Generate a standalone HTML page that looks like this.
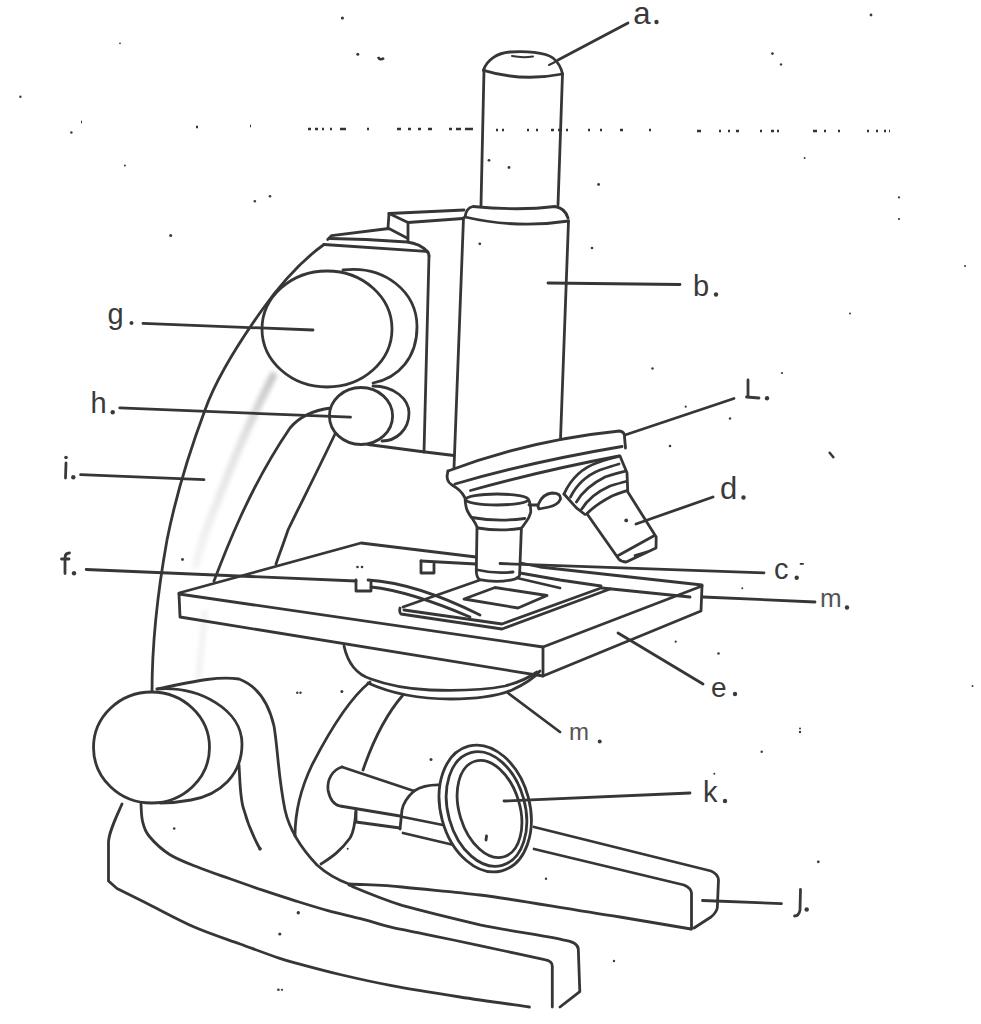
<!DOCTYPE html>
<html><head><meta charset="utf-8"><title>Microscope</title>
<style>
html,body{margin:0;padding:0;background:#fff;}
body{width:981px;height:1024px;overflow:hidden;position:relative;}
svg{position:absolute;left:0;top:0;}
.l{fill:none;stroke:#363636;stroke-width:2.8;stroke-linecap:round;stroke-linejoin:round;}
.t{font-family:"Liberation Sans",sans-serif;fill:#3a3a3a;}
</style></head>
<body>
<svg width="981" height="1024" viewBox="0 0 981 1024">
<!-- smudge -->
<defs><linearGradient id="sg" x1="0" y1="0" x2="0" y2="1"><stop offset="0" stop-color="#c8c8c8"/><stop offset="0.35" stop-color="#e2e2e2"/><stop offset="1" stop-color="#f4f4f4"/></linearGradient>
<filter id="bl" x="-50%" y="-10%" width="200%" height="120%"><feGaussianBlur stdDeviation="2"/></filter></defs>
<path d="M273,376 C258,405 235,455 218,500 C208,525 200,545 196,565" fill="none" stroke="url(#sg)" stroke-width="8" stroke-linecap="round" filter="url(#bl)"/>
<path d="M205,610 C203,640 200,660 198,680" fill="none" stroke="#f2f2f2" stroke-width="6" filter="url(#bl)"/>
<g class="l">
<!-- eyepiece -->
<path d="M483.5,70 C487,60 497,53 510,52 C525,51 545,52 553,58 C558,62 561,67 562.5,74"/>
<path d="M512,56 Q522,58 533,56.5" stroke-width="2"/>
<path d="M549,65 L555,62" stroke-width="2"/>
<path d="M483.5,70.3 Q522,82 562.5,74"/>
<path d="M484,70 L481,205"/>
<path d="M562.5,74 L558,205"/>
<path d="M465,217 Q466,208 473,206.5 Q519,211 555,206.5 Q565,208 568,218"/>
<path d="M465,217 Q517,229 568.5,221"/>
<!-- body tube -->
<path d="M463.5,218 L454,468"/>
<path d="M568.5,221 L560.5,439.5"/>
<!-- arm top block -->
<path d="M389,213.5 L464,210"/>
<path d="M389,213.5 L408,222.5 L463,218.5"/>
<path d="M389,213.5 L388,228"/>
<path d="M408,222.5 L408,241"/>
<path d="M327.7,239.4 L331.6,235.6 L388.9,228.5 L407,238"/>
<path d="M330,238.5 L366,239.5 L407,242 Q420,243.5 428,252"/>
<path d="M324,244.5 L426,251.3 Q429,252 429,256"/>
<path d="M429,256 L424,452"/>
<path d="M368,444.5 L421,451.5 L454,455.5"/>
<!-- arm outer curve -->
<path d="M324,244.5 C305,258 282,282 262,310 C235,348 215,382 205,410 C190,450 175,500 167,540 C158,590 152,640 152,692"/>
<!-- arm inner curves -->
<path d="M331,408 C315,410 300,416 290,428 C275,450 255,485 240,518 C230,540 222,560 214,581"/>
<path d="M335,434 C318,470 300,505 288,530 C283,545 279,555 276,564"/>
<!-- g knob -->
<path d="M343,270 C385,265 417,292 417,327 C417,357 399,378 373,383"/>
<ellipse cx="327" cy="329" rx="65" ry="58" fill="#fff"/>
<!-- h knob -->
<path d="M373,386 C394,386 409,399 409,413 C409,430 396,441 382,441"/>
<ellipse cx="361" cy="416" rx="31.6" ry="28.5" fill="#fff"/>
<!-- nosepiece -->
<path d="M448,471 Q530,440 619.5,431 Q625,432 624.5,437 L625.5,448"/>
<path d="M448,471 Q445,481 452,485 Q461,490 464.5,497"/>
<path d="M455,484 Q530,462 622,446.5"/>
<path d="M470.5,490.5 Q540,471 619,456"/>
<!-- objective straight -->
<path d="M465,498 Q465.5,506 467,510 Q470,516 472,518 Q476,524 477.5,528 M529.2,500.6 Q531,507 530.7,512.3 Q529,518 527,520.5 Q524.5,524 522.4,527"/>
<path d="M471.8,517.5 Q498,522 524.8,518.5"/>
<path d="M478,528 Q499,531.5 520,528.5"/>
<path d="M477,528 L476.3,571 Q476.5,577 479.4,579.7 Q499,583.5 515.5,578.8 Q519.5,577 519.6,575 L521.4,528"/>
<path d="M478,570 Q495,574 513,572"/>
<ellipse cx="497" cy="499.5" rx="31.5" ry="5.5" fill="#fff"/>
<path d="M529,505 L538,505"/>
<!-- small objective behind -->
<path d="M539,503 Q543,494 552,493 Q561,493 560.5,499 Q558,505 549,507 L539,509 Q537,506 539,503"/>
<!-- angled objective -->
<path d="M620,456 L623.3,464 L627,472.7 L627.7,490.3"/>
<path d="M564,494 Q575,470 598,462.5 Q610,458 618,456.6"/>
<path d="M570.5,497 Q580,478 600,470 Q612,466 619,464"/>
<path d="M576.4,502 Q585,487 605,477 Q617,473 624.7,471.3"/>
<path d="M581.5,509.4 Q590,495 610,486 Q620,483 626,481.5"/>
<path d="M586.6,514 Q595,505 612,496 Q622,492 627.7,490.3"/>
<path d="M564,494 L576.4,507.9 L585,514.5"/>
<path d="M588,515.2 L618.9,559.2 Q622,562 626.2,562 L656,548 L656.2,537 L627.7,491.8"/>
<path d="M617.4,556 L654,535.7"/>
<path d="M635,555.5 L646.7,552"/>
<!-- stage -->
<path d="M179,593 L361,543 L476,557 M521,563 L540,567 L702,585"/>
<path d="M179,594 L543,647 L702,586"/>
<path d="M179,594 L180,617 L543,676 L701,611 L702,586"/>
<path d="M543,647 L543,676"/>
<!-- slide holder -->
<path d="M403,607 L480,580"/>
<path d="M400,608 Q399,612 401,614 L502,629 L610,589"/>
<path d="M404,610 L502,624 L601,588"/>
<path d="M520,573 L560,580 L601,586"/>
<path d="M517,578 L560,588"/>
<path d="M602,588 L690,597"/>
<path d="M464,599 L495,587.5 L547,595.5 L518,608 Z"/>
<!-- f clip -->
<path d="M356,580 L356,591 L371,591 L371,582"/>
<path d="M368,580 C400,582 440,595 480,615"/>
<path d="M371,587 C400,590 435,602 470,617"/>
<!-- back clip -->
<path d="M421,561 L421,573 L434,573 L434,564"/>
<path d="M421,561 L476,564"/>
<!-- condenser -->
<path d="M344,646 C348,664 358,675 371,679 C390,686 410,689 430,690 C460,691 490,689 505,686 C520,682 530,677 537,672"/>
<path d="M368,683 C390,693 420,699 451,699 C480,699 500,695 512,690 C525,684 534,678 540,671"/>
<!-- pillar -->
<path d="M370,682 C350,698 330,730 312,765 C300,790 295,815 295,836"/>
<path d="M403,695 C390,710 375,735 363,770"/>
<path d="M356,810 C355,825 352,835 350,838 C340,852 330,858 321,864"/>
<!-- coarse knob + housing -->
<path d="M157,689 C200,680 220,676 239,679 C255,685 268,700 274,726 C278,750 278,775 285,810 C289,828 298,845 317,865 C327,874 338,880 349,884 C370,885 385,885 402,887 C430,890 455,892 480,895 C520,900 560,908 620,917 L691,929"/>
<path d="M157,689 C200,686 242,710 242,744 C242,775 220,795 191,800 Q175,803 160,803"/>
<path d="M239,765 C240,780 240,800 244,810 C248,825 254,838 260,849"/>
<ellipse cx="151.5" cy="747.5" rx="58" ry="55.5" fill="#fff"/>
<!-- base -->
<path d="M122,804 C115,820 109,832 108.5,842 L108.5,881 L117,888.5 C122.5,891.2 137.1,898.6 150.0,905.0 C162.9,911.4 179.2,920.5 194.2,927.0 C209.2,933.5 225.7,938.8 240.0,944.0 C254.3,949.2 269.8,955.0 279.8,958.4 C289.8,961.8 290.0,961.5 300.0,964.2 C310.0,966.9 324.7,970.9 340.0,974.5 C355.3,978.1 371.7,981.9 391.7,985.6 C411.7,989.4 437.1,993.4 460.0,997.0 C482.9,1000.6 517.8,1005.3 529.4,1007.0"/>
<path d="M141.0,804.0 C141.2,806.8 141.2,815.7 142.5,821.0 C143.8,826.3 144.4,830.4 149.0,836.0 C153.6,841.6 161.5,849.4 170.0,854.7 C178.5,860.0 190.0,864.0 200.0,868.0 C210.0,872.0 219.6,875.1 230.0,878.8 C240.4,882.5 251.7,886.5 262.6,890.2 C273.5,893.9 284.4,897.4 295.3,900.8 C306.2,904.2 317.0,907.6 327.9,910.6 C338.8,913.6 350.1,916.0 360.5,918.7 C370.9,921.4 379.7,924.4 390.0,926.9 C400.3,929.4 411.8,931.4 422.3,933.6 C432.9,935.8 440.4,937.3 453.3,940.0 C466.2,942.7 484.8,946.7 500.0,950.0 C515.2,953.3 537.2,958.0 544.6,959.6 Q552.3,961 552.3,966 L552.3,1007"/>
<path d="M349,885 Q352,886 353.4,887 C370,894 385,900 402,905.4 C430,913 455,919 480,924.8 C510,931 540,935 563,939.8 Q578,942 578.3,949 L579.8,991.7 L560,1007"/>
<!-- right leg -->
<path d="M534,827 L711,871 Q718,874 718.5,880 L717.3,908 Q716,913 711,917 L694,928"/>
<path d="M534,849 L684,885 Q691,888 691.5,893 L691.5,929"/>
<!-- mirror handle -->
<path d="M342,767 L414,791"/>
<path d="M342,767 C332,770 327,780 328,790 C330,800 335,805 340,806 L400,816"/>
<path d="M356,812 L356,822 L400,828"/>
<path d="M414,791 Q404,800 402,810 L400,829"/>
<path d="M414,791 Q425,784 442,785"/>
<path d="M403,817 L448,826"/>
<path d="M403,833 L458,846"/>
<!-- mirror -->
<ellipse cx="485.2" cy="808.5" rx="44.5" ry="64.5" transform="rotate(-15 485.2 808.5)" fill="#fff"/>
<ellipse cx="486.5" cy="809" rx="38.5" ry="58.5" transform="rotate(-15.5 486.5 809)"/>
<ellipse cx="489.5" cy="809" rx="30.2" ry="49.9" transform="rotate(-17 489.5 809)"/>
<path d="M486.5,836 L486,840"/>
<!-- label lines -->
<path d="M558,60 L628,23"/>
<path d="M548,283 L680,284.5"/>
<path d="M625,435 L734,398.5"/>
<path d="M636,524 L713,497"/>
<path d="M500,563.5 L764,572.8"/>
<path d="M703,597 L815,602"/>
<path d="M618,633 L703,684"/>
<path d="M508,693 L560,732"/>
<path d="M504,801 L690,793"/>
<path d="M702.5,900.5 L781.4,903.6"/>
<path d="M143,323.4 L313,330"/>
<path d="M119.8,407.9 L350.5,417.2"/>
<path d="M80.6,474.7 L204,479.6"/>
<path d="M86.2,569.5 L356,581"/>
</g>
<!-- dotted line -->
<path d="M81,122h1 M196,127h2 M250,126h1 M308,129h3 M315,129h3 M322,129h2 M330,129h2 M340,129h6 M367,129h2 M397,129h4 M408,129h3 M418,129h3 M428,129h4 M449,129h3 M456,129h5 M465,129h8 M496,130h2 M502,130h2 M527,130h2 M536,130h2 M551,130h3 M558,130h4 M566,130h2 M588,130h2 M600,130h2 M620,130h3 M649,130h2 M697,131h4 M719,131h2 M728,131h2 M736,131h3 M760,131h2 M771,131h3 M777,131h2 M813,131h4 M824,131h2 M838,131h2 M867,131h2 M876,131h2 M884,131h2 M889,131h1" stroke="#333" stroke-width="2.6" fill="none"/>
<g fill="#3a3a3a">
<circle cx="782" cy="373" r="1.1"/>
<circle cx="685.7" cy="406.7" r="1.1"/>
<circle cx="742.3" cy="588.3" r="1"/>
<circle cx="675.7" cy="641.7" r="1.1"/>
<circle cx="120" cy="43.3" r="0.9"/>
<circle cx="342.4" cy="18" r="1.6"/>
<circle cx="626.2" cy="520.4" r="1.9"/>
<circle cx="357.8" cy="54.3" r="1.5"/>
<circle cx="20.4" cy="96.8" r="1.2"/>
<circle cx="71.4" cy="132.5" r="1.2"/>
<circle cx="124.9" cy="165.6" r="1"/>
<circle cx="254.8" cy="201.3" r="1.3"/>
<circle cx="270" cy="196.2" r="1.3"/>
<circle cx="170.7" cy="235.5" r="1.5"/>
<circle cx="871" cy="15" r="1.4"/>
<circle cx="772.4" cy="53.6" r="1.4"/>
<circle cx="781" cy="64.4" r="1.2"/>
<circle cx="598.6" cy="184.5" r="1.4"/>
<circle cx="804.6" cy="158" r="1"/>
<circle cx="899" cy="197.4" r="1.1"/>
<circle cx="899" cy="219" r="1.1"/>
<circle cx="592" cy="248" r="1.3"/>
<circle cx="489" cy="160.3" r="1.4"/>
<circle cx="509" cy="167.5" r="1.4"/>
<circle cx="479.8" cy="243.8" r="1.4"/>
<circle cx="652.5" cy="368.5" r="1.2"/>
<circle cx="670" cy="446" r="1.3"/>
<circle cx="730" cy="418.5" r="1.2"/>
<circle cx="850" cy="313.5" r="1"/>
<circle cx="965" cy="266" r="1"/>
<circle cx="718.5" cy="653.5" r="1.3"/>
<circle cx="800" cy="732" r="1.2"/>
<circle cx="761.7" cy="751.7" r="1.2"/>
<circle cx="714.3" cy="773.8" r="1"/>
<circle cx="818.3" cy="861.8" r="1.4"/>
<circle cx="546" cy="878.7" r="1.2"/>
<circle cx="182.5" cy="559.5" r="1.4"/>
<circle cx="357.5" cy="567" r="1.3"/>
<circle cx="362" cy="567" r="1.3"/>
<circle cx="297.3" cy="692.8" r="1.2"/>
<circle cx="300.5" cy="692.8" r="1.2"/>
<circle cx="341.9" cy="691.6" r="1.5"/>
<circle cx="431" cy="759.6" r="1.5"/>
<circle cx="260" cy="848.7" r="1.8"/>
<circle cx="347.7" cy="848.7" r="1"/>
<circle cx="174.2" cy="828.5" r="1.3"/>
<circle cx="298.3" cy="912.7" r="1.7"/>
<circle cx="279.8" cy="934" r="1.6"/>
<circle cx="278.4" cy="989.8" r="1.3"/>
<circle cx="282" cy="989.8" r="1.1"/>
<circle cx="614" cy="961" r="1.2"/>
<circle cx="972.5" cy="686" r="1"/>
<circle cx="800" cy="728.5" r="1"/>
<path d="M378,57 Q380,61 384,58" fill="none" stroke="#333" stroke-width="2.6"/>
<path d="M829,452 L834,458" fill="none" stroke="#333" stroke-width="2.4"/>
</g>
<g class="t">
<text x="632.5" y="24" font-family="Liberation Mono" font-size="32">a</text>
<circle cx="656.5" cy="22" r="2.2"/>
<text x="693" y="296" font-size="29">b</text>
<circle cx="716" cy="294.5" r="2.2"/>
<text x="720" y="499" font-size="31">d</text>
<circle cx="743.5" cy="497.5" r="2.2"/>
<text x="774" y="579" font-size="29">c</text>
<circle cx="796.7" cy="577.7" r="2.2"/>
<rect x="799.8" y="563" width="4" height="1.8"/>
<text x="820" y="607" font-size="26" fill="#555">m</text>
<circle cx="847" cy="607.5" r="2.2"/>
<text x="711" y="696.5" font-size="28">e</text>
<circle cx="735" cy="694" r="2.2"/>
<text x="569" y="740" font-size="24" fill="#555">m</text>
<circle cx="599.7" cy="741.6" r="2"/>
<text x="703" y="802" font-size="29">k</text>
<circle cx="725" cy="801" r="2.2"/>
<circle cx="806.7" cy="909.5" r="2.2"/>
<text x="107.5" y="324" font-size="29">g</text>
<circle cx="131.5" cy="323" r="2"/>
<text x="90.5" y="413" font-size="29">h</text>
<circle cx="112.7" cy="412.2" r="2.2"/>
<circle cx="73.3" cy="477.2" r="2.2"/>
<circle cx="74" cy="573.2" r="2.2"/>
<circle cx="767" cy="398.2" r="2.2"/>
</g>
<g fill="none" stroke="#3a3a3a" stroke-width="2.8" stroke-linecap="round">
<!-- i -->
<path d="M66,463 L65.5,478"/>
<circle cx="66" cy="457.5" r="1.8" fill="#3a3a3a" stroke="none"/>
<!-- f -->
<path d="M69.5,553 Q65,553 65,558 L65,573.5 M61.5,559 L69,559"/>
<!-- L -->
<path d="M748,380 L748,397 M746.5,397 L759,398"/>
<!-- j -->
<path d="M800.5,889.5 L800,910 Q799,916 794.5,916"/>
</g>
</svg>
</body></html>
